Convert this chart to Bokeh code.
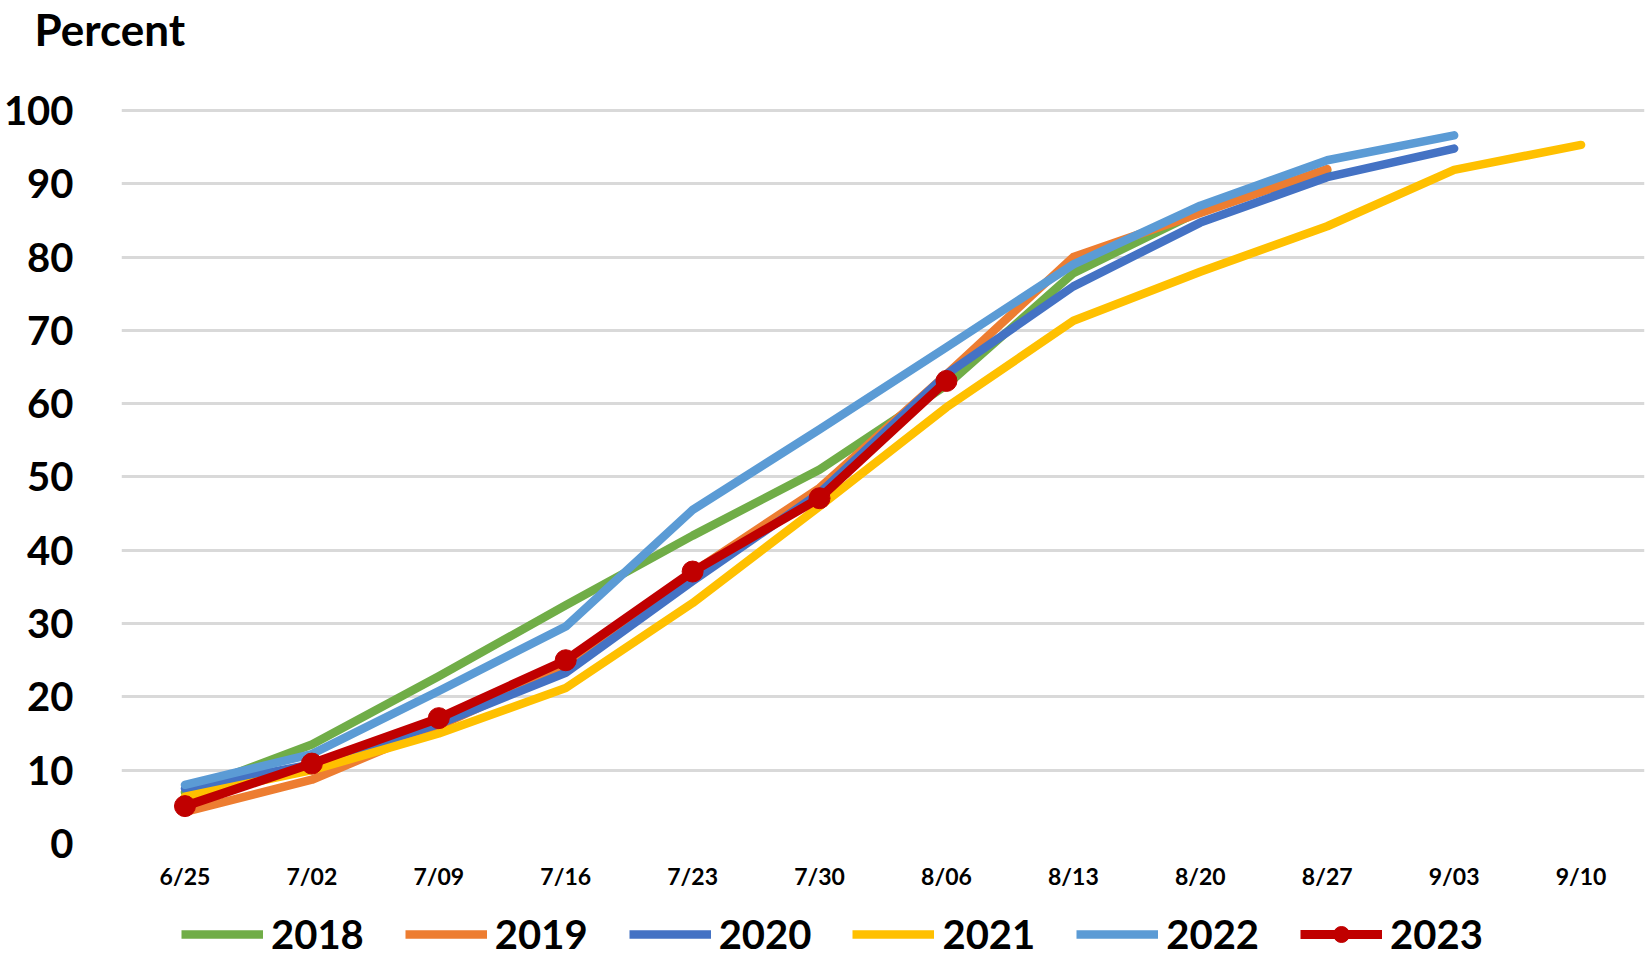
from bokeh.plotting import figure
from bokeh.layouts import column
from bokeh.models import Legend, LegendItem, Range1d, FactorRange, FixedTicker, Title
from bokeh.embed import file_html
from bokeh.resources import INLINE

weeks = ["6/25", "7/02", "7/09", "7/16", "7/23", "7/30", "8/06", "8/13", "8/20", "8/27", "9/03", "9/10"]
y2018 = [7.0, 13.5, 22.8, 32.5, 42.0, 51.0, 62.5, 77.8, 86.3, 91.8]
y2019 = [4.3, 8.7, 16.0, 24.0, 37.0, 48.5, 64.0, 80.0, 86.0, 92.0]
y2020 = [7.5, 10.8, 16.3, 23.3, 35.8, 47.8, 64.0, 76.0, 84.7, 90.9, 94.8]
y2021 = [6.4, 10.0, 15.0, 21.2, 32.8, 46.0, 59.5, 71.3, 78.0, 84.2, 91.9, 95.3]
y2022 = [8.0, 12.2, 20.8, 29.6, 45.5, 56.5, 67.7, 79.0, 87.0, 93.2, 96.6]
y2023 = [5.1, 10.9, 17.1, 25.0, 37.1, 47.1, 63.1]
years = ["2018", "2019", "2020", "2021", "2022", "2023"]
colors = ["#70AD47", "#ED7D31", "#4472C4", "#FFC000", "#5B9BD5", "#C00000"]
yticks = [0, 10, 20, 30, 40, 50, 60, 70, 80, 90, 100]

FONT = "Lato"

p = figure(frame_width=1523, frame_height=736, x_range=FactorRange(*weeks, range_padding=0),
           y_range=Range1d(0, 100.4), output_backend="svg", toolbar_location=None,
           min_border_left=114, min_border_right=3, min_border_top=0, min_border_bottom=0,
           title="Percent")
p.outline_line_color = None
p.background_fill_color = "white"
p.border_fill_color = "white"

p.title.text_font = FONT
p.title.text_font_style = "bold"
p.title.text_font_size = "44px"
p.title.text_color = "black"
p.title.align = "left"
p.title.offset = -87
p.title.standoff = 0

# spacer between the title and the plot area
p.add_layout(Title(text=" ", text_font_size="10px", standoff=40), "above")

p.xgrid.grid_line_color = None
p.ygrid.grid_line_color = "#D9D9D9"
p.ygrid.grid_line_width = 3
p.yaxis.ticker = FixedTicker(ticks=yticks)

for ax in (p.xaxis, p.yaxis):
    ax.axis_line_color = None
    ax.major_tick_line_color = None
    ax.minor_tick_line_color = None
    ax.major_label_text_font = FONT
    ax.major_label_text_font_style = "bold"
    ax.major_label_text_color = "black"
p.yaxis.major_label_text_font_size = "40px"
p.yaxis.major_label_standoff = 42
p.xaxis.major_label_text_font_size = "23px"
p.xaxis.major_label_standoff = 12

series = [y2018, y2019, y2020, y2021, y2022, y2023]
for name, vals, col in zip(years, series, colors):
    xs = weeks[:len(vals)]
    lw = 9 if name == "2023" else 8.5
    p.line(xs, vals, line_color=col, line_width=lw, line_cap="round", line_join="round")
    if name == "2023":
        p.scatter(xs, vals, size=21, fill_color=col, line_color=col)

# legend strip below the chart (legend swatches use off-range placeholder points)
lg = figure(frame_width=1640, frame_height=76, x_range=Range1d(0, 1), y_range=Range1d(0, 1),
            output_backend="svg", toolbar_location=None, x_axis_type=None, y_axis_type=None,
            min_border_left=0, min_border_right=0, min_border_top=0, min_border_bottom=0)
lg.outline_line_color = None
lg.grid.visible = False
lg.background_fill_color = "white"
lg.border_fill_color = "white"

items = []
for name, col in zip(years, colors):
    lw = 9 if name == "2023" else 8.5
    r = lg.line([-10, -9], [-10, -9], line_color=col, line_width=lw)
    rs = [r]
    if name == "2023":
        rs.append(lg.scatter([-10], [-10], size=21, fill_color=col, line_color=col))
    items.append(LegendItem(label=name, renderers=rs))

leg = Legend(items=items, orientation="horizontal", location=(181, 10))
leg.label_text_font = FONT
leg.label_text_font_style = "bold"
leg.label_text_font_size = "40px"
leg.label_text_color = "black"
leg.glyph_width = 82
leg.glyph_height = 40
leg.label_standoff = 8
leg.spacing = 41
leg.padding = 0
leg.margin = 0
leg.border_line_color = None
leg.background_fill_alpha = 0
lg.add_layout(leg, "center")

layout = column(p, lg, spacing=0)
open("out.html", "w").write(file_html(layout, INLINE))
